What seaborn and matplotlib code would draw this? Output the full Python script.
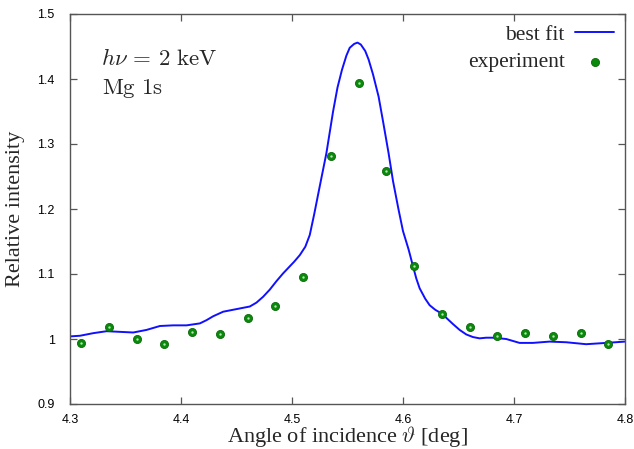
import numpy as np
import pandas as pd
import seaborn as sns
import matplotlib
matplotlib.use("Agg")
import matplotlib.pyplot as plt
from matplotlib.ticker import FuncFormatter

# Measured rocking curve (Mg 1s, hv = 2 keV)
exp_angle = [4.31, 4.335, 4.36, 4.385, 4.41, 4.435, 4.46, 4.485, 4.51, 4.535,
             4.56, 4.585, 4.61, 4.635, 4.66, 4.685, 4.71, 4.735, 4.76, 4.785]
exp_intensity = [0.994, 1.019, 1.000, 0.992, 1.011, 1.007, 1.032, 1.051, 1.096, 1.282,
                 1.394, 1.259, 1.112, 1.039, 1.018, 1.004, 1.010, 1.004, 1.010, 0.992]

# Best-fit curve
fit_angle = [4.300, 4.309, 4.321, 4.333, 4.345, 4.357, 4.369, 4.381, 4.393, 4.405,
             4.417, 4.423, 4.429, 4.438, 4.450, 4.462, 4.468, 4.474, 4.480, 4.486,
             4.492, 4.497, 4.502, 4.507, 4.512, 4.516, 4.520, 4.525, 4.531, 4.537,
             4.541, 4.545, 4.549, 4.552, 4.556, 4.559, 4.562, 4.566, 4.569, 4.573,
             4.578, 4.582, 4.587, 4.591, 4.596, 4.600, 4.605, 4.609, 4.612, 4.615,
             4.620, 4.624, 4.629, 4.635, 4.640, 4.645, 4.651, 4.657, 4.663, 4.669,
             4.675, 4.681, 4.687, 4.693, 4.699, 4.705, 4.717, 4.732, 4.747, 4.765,
             4.783, 4.800]
fit_intensity = [1.004, 1.005, 1.009, 1.012, 1.011, 1.010, 1.014, 1.020, 1.021, 1.021,
                 1.024, 1.029, 1.035, 1.042, 1.046, 1.050, 1.056, 1.065, 1.076, 1.089,
                 1.101, 1.110, 1.119, 1.129, 1.142, 1.160, 1.192, 1.235, 1.286, 1.350,
                 1.387, 1.414, 1.436, 1.448, 1.454, 1.456, 1.453, 1.443, 1.430, 1.407,
                 1.373, 1.335, 1.286, 1.243, 1.199, 1.166, 1.138, 1.112, 1.093, 1.078,
                 1.062, 1.052, 1.045, 1.039, 1.031, 1.023, 1.014, 1.007, 1.003, 1.001,
                 1.002, 1.002, 1.001, 1.000, 0.997, 0.994, 0.994, 0.996, 0.995, 0.992,
                 0.994, 0.996]

fit_df = pd.DataFrame({"angle": fit_angle, "intensity": fit_intensity})
exp_df = pd.DataFrame({"angle": exp_angle, "intensity": exp_intensity})

sns.set_theme(style="white")
plt.rcParams["mathtext.fontset"] = "cm"

fig = plt.figure(figsize=(6.34, 4.49), dpi=100)
ax = fig.add_axes([70 / 634, 1 - 404 / 449, 555 / 634, 390 / 449])

sns.lineplot(data=fit_df, x="angle", y="intensity", ax=ax, color="#1010ff",
             linewidth=1.4, label="best fit")
sns.scatterplot(data=exp_df, x="angle", y="intensity", ax=ax, color="#0a8a0a",
                s=34, edgecolor="#0a6a0a", linewidth=0.6, label="experiment", zorder=3)
# small light centres of the markers
ax.scatter(exp_angle, exp_intensity, s=3, color="#b8e0b8", zorder=4, linewidth=0)

ax.set_xlim(4.3, 4.8)
ax.set_ylim(0.9, 1.5)
ax.set_xticks([4.3, 4.4, 4.5, 4.6, 4.7, 4.8])
ax.set_yticks([0.9, 1.0, 1.1, 1.2, 1.3, 1.4, 1.5])
fmt = FuncFormatter(lambda v, p: f"{v:g}")
ax.xaxis.set_major_formatter(fmt)
ax.yaxis.set_major_formatter(fmt)

for s in ax.spines.values():
    s.set_color("#555555")
    s.set_linewidth(1.0)
ax.tick_params(direction="in", length=5, width=0.9, color="#555555",
               top=True, right=True, bottom=True, left=True,
               labelsize=9, labelcolor="black")
ax.tick_params(axis="x", pad=7)
ax.tick_params(axis="y", pad=11)
for lab in ax.get_xticklabels() + ax.get_yticklabels():
    lab.set_family("Liberation Sans")

ax.set_xlabel(r"Angle of incidence $\vartheta$ [deg]", family="Liberation Serif",
              fontsize=16, labelpad=-1)
ax.set_ylabel("Relative intensity", family="Liberation Serif", fontsize=16, labelpad=9)

ax.text(0.056, 0.885, r"$h\nu\,=\,2\ \mathrm{keV}$", transform=ax.transAxes,
        fontsize=16.5, va="center", ha="left")
ax.text(0.058, 0.808, r"$\mathrm{Mg\ 1s}$", transform=ax.transAxes,
        fontsize=16.5, va="center", ha="left")

leg = ax.legend(loc="upper right", frameon=False, markerfirst=False,
                prop={"family": "Liberation Serif", "size": 15.5},
                handlelength=1.8, handletextpad=0.5, borderaxespad=0.1,
                labelspacing=0.35)

fig.savefig("out.png", dpi=100)
